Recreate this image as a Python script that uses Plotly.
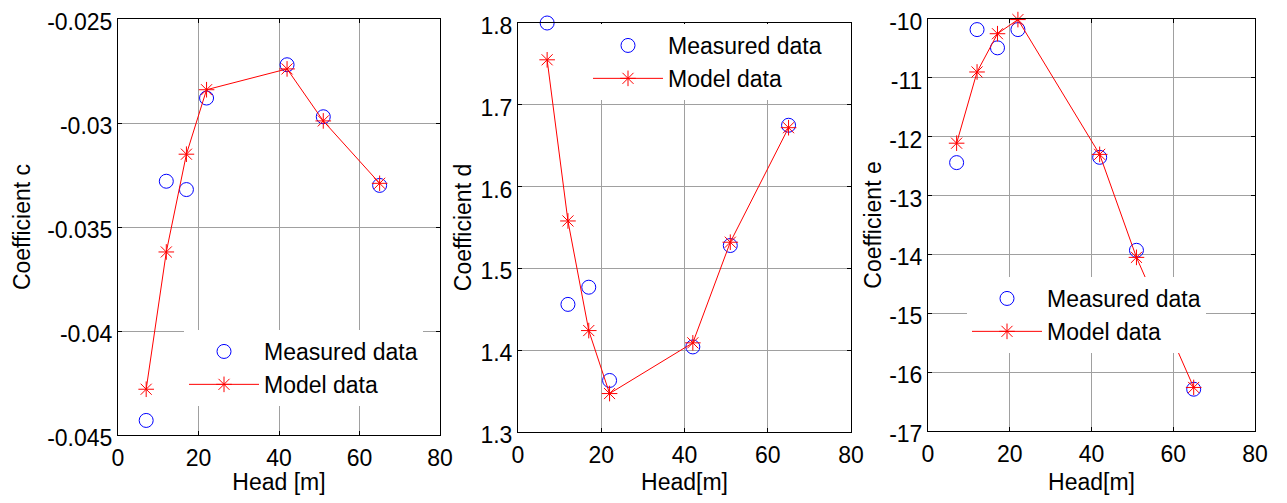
import plotly.graph_objects as go

# page has an 8px default body margin; draw in a figure that fits inside it
PAGE_W, PAGE_H = 1287, 503
OFF = 8
W, H = PAGE_W - 2 * OFF, PAGE_H - 2 * OFF

# ---- data ----
head = [7, 12, 17, 22, 42, 51, 65]

c_measured = [-0.0443, -0.0328, -0.0332, -0.0288, -0.0272, -0.0297, -0.0330]
c_model = [-0.0428, -0.0362, -0.0315, -0.0284, -0.0274, -0.0299, -0.0329]

d_measured = [1.800, 1.456, 1.477, 1.363, 1.404, 1.528, 1.675]
d_model = [1.755, 1.558, 1.424, 1.347, 1.409, 1.532, 1.672]

e_measured = [-12.44, -10.18, -10.49, -10.18, -12.35, -13.93, -16.29]
e_model = [-12.11, -10.90, -10.25, -10.01, -12.30, -14.05, -16.26]

x_ticks = [0, 20, 40, 60, 80]
c_ticks = [-0.045, -0.04, -0.035, -0.03, -0.025]
c_ticklabels = ["-0.045", "-0.04", "-0.035", "-0.03", "-0.025"]
d_ticks = [1.3, 1.4, 1.5, 1.6, 1.7, 1.8]
d_ticklabels = ["1.3", "1.4", "1.5", "1.6", "1.7", "1.8"]
e_ticks = [-17, -16, -15, -14, -13, -12, -11, -10]
e_ticklabels = ["-17", "-16", "-15", "-14", "-13", "-12", "-11", "-10"]

x_titles = ["Head [m]", "Head[m]", "Head[m]"]
y_titles = ["Coefficient c", "Coefficient d", "Coefficient e"]
series_names = ["Measured data", "Model data"]

# ---- layout geometry (page pixels) ----
panels = [
    dict(x0=118, x1=440, y0=19, y1=435),
    dict(x0=518, x1=851, y0=23, y1=432),
    dict(x0=928, x1=1255, y0=19, y1=431),
]
legend_pos = [(184, 330), (588, 24), (967, 277)]
ytitle_standoff = [10, 2, 1]

FONT = "Liberation Sans, Arial, sans-serif"
FS = 23


def px(x):
    return (x - OFF) / W


def py(y):
    return 1 - (y - OFF) / H


fig = go.Figure()

measured = [c_measured, d_measured, e_measured]
model = [c_model, d_model, e_model]
ranges = [[-0.045, -0.025], [1.3, 1.8], [-17, -10]]
yticks = [c_ticks, d_ticks, e_ticks]
yticklabels = [c_ticklabels, d_ticklabels, e_ticklabels]

for i in range(3):
    xa = "x" if i == 0 else f"x{i+1}"
    ya = "y" if i == 0 else f"y{i+1}"
    lg = "legend" if i == 0 else f"legend{i+1}"
    fig.add_trace(go.Scatter(
        x=head, y=measured[i], mode="markers", name=series_names[0],
        xaxis=xa, yaxis=ya, legend=lg, legendgroup=f"m{i}",
        marker=dict(symbol="circle-open", size=14, color="#0000ff",
                    line=dict(width=1, color="#0000ff")),
        cliponaxis=False,
    ))
    fig.add_trace(go.Scatter(
        x=head, y=model[i], mode="lines+markers", name=series_names[1],
        xaxis=xa, yaxis=ya, legend=lg, legendgroup=f"p{i}",
        line=dict(color="#ff0000", width=1),
        marker=dict(symbol="asterisk-open", size=13, color="#ff0000",
                    line=dict(width=1, color="#ff0000")),
        cliponaxis=False,
    ))

layout = dict(
    width=W, height=H,
    margin=dict(l=0, r=0, t=0, b=0),
    paper_bgcolor="white", plot_bgcolor="white",
    font=dict(family=FONT, size=FS, color="black"),
    showlegend=True,
)

for i, p in enumerate(panels):
    sx = "" if i == 0 else str(i + 1)
    layout[f"xaxis{sx}"] = dict(
        domain=[px(p["x0"]), px(p["x1"])],
        anchor=f"y{sx}",
        range=[0, 80], tickvals=x_ticks, ticktext=[str(v) for v in x_ticks],
        showline=True, linecolor="black", linewidth=1, mirror="ticks",
        ticks="inside", ticklen=4, tickcolor="black",
        showgrid=True, gridcolor="#a0a0a0", gridwidth=1,
        zeroline=False, ticklabeloverflow="allow", ticklabelstandoff=2,
        tickfont=dict(family=FONT, size=FS, color="black"),
        title=dict(text=x_titles[i], font=dict(family=FONT, size=FS, color="black"), standoff=14),
        automargin=False,
    )
    layout[f"yaxis{sx}"] = dict(
        domain=[py(p["y1"]), py(p["y0"])],
        anchor=f"x{sx}",
        range=ranges[i], tickvals=yticks[i], ticktext=yticklabels[i],
        showline=True, linecolor="black", linewidth=1, mirror="ticks",
        ticks="inside", ticklen=4, tickcolor="black",
        showgrid=True, gridcolor="#a0a0a0", gridwidth=1,
        zeroline=False, ticklabeloverflow="allow", ticklabelshift=3,
        tickfont=dict(family=FONT, size=FS, color="black"),
        title=dict(text=y_titles[i], font=dict(family=FONT, size=FS, color="black"),
                   standoff=ytitle_standoff[i]),
        automargin=False,
    )
    lk = "legend" if i == 0 else f"legend{i+1}"
    lx, ly = legend_pos[i]
    layout[lk] = dict(
        x=px(lx), y=py(ly), xanchor="left", yanchor="top",
        xref="paper", yref="paper",
        bgcolor="white", borderwidth=0,
        font=dict(family=FONT, size=FS, color="black"),
        itemwidth=70, tracegroupgap=0, traceorder="grouped",
    )

fig.update_layout(**layout)
fig.write_html("out.html")
